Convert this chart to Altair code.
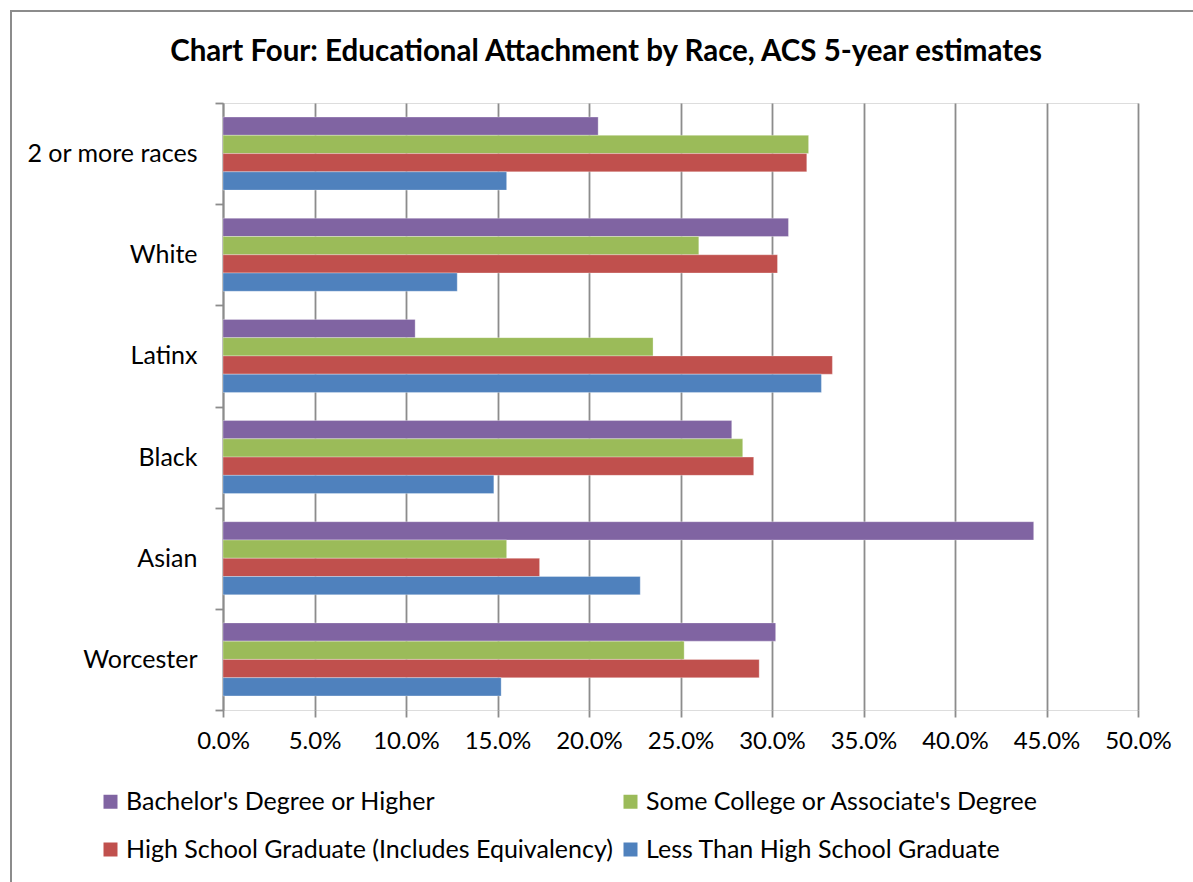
import altair as alt
import pandas as pd

races = ["2 or more races", "White", "Latinx", "Black", "Asian", "Worcester"]
series = [
    "Bachelor's Degree or Higher",
    "Some College or Associate's Degree",
    "High School Graduate (Includes Equivalency)",
    "Less Than High School Graduate",
]
colors = ["#8064A2", "#9BBB59", "#C0504D", "#4F81BD"]
title_text = "Chart Four: Educational Attachment by Race, ACS 5-year estimates"

bachelor = [0.205, 0.309, 0.105, 0.278, 0.443, 0.302]
some_college = [0.320, 0.260, 0.235, 0.284, 0.155, 0.252]
high_school = [0.319, 0.303, 0.333, 0.290, 0.173, 0.293]
less_hs = [0.155, 0.128, 0.327, 0.148, 0.228, 0.152]
x_ticks = [0, 0.05, 0.1, 0.15, 0.2, 0.25, 0.3, 0.35, 0.4, 0.45, 0.5]

rows = []
for vals, s in zip([bachelor, some_college, high_school, less_hs], series):
    for r, v in zip(races, vals):
        rows.append({"race": r, "series": s, "value": v})
df = pd.DataFrame(rows)

FONT = "Lato, sans-serif"

bars = alt.Chart(df).mark_bar(stroke="white", strokeWidth=0.6, strokeOpacity=0.5).encode(
    x=alt.X(
        "value:Q",
        scale=alt.Scale(domain=[0, 0.5], nice=False),
        axis=alt.Axis(
            format=".1%",
            values=x_ticks,
            title=None,
            domain=False,
            grid=True,
            gridColor="#8c8c8c",
            gridWidth=1.8,
            tickColor="#8c8c8c",
            tickWidth=1.8,
            tickSize=7,
            labelFontSize=24,
            labelFont=FONT,
            labelColor="black",
            labelPadding=12,
            labelOverlap=False,
            labelBound=False,
            labelFlush=False,
        ),
    ),
    y=alt.Y(
        "race:N",
        sort=races,
        scale=alt.Scale(paddingInner=0, paddingOuter=0),
        axis=alt.Axis(
            title=None,
            tickBand="extent",
            grid=False,
            domainColor="#8c8c8c",
            domainWidth=1.8,
            tickColor="#8c8c8c",
            tickWidth=1.8,
            tickSize=8,
            labelFontSize=25,
            labelFont=FONT,
            labelColor="black",
            labelPadding=18,
        ),
    ),
    yOffset=alt.YOffset(
        "series:N",
        sort=series,
        scale=alt.Scale(paddingInner=0, paddingOuter=0.77),
    ),
    color=alt.Color(
        "series:N",
        sort=series,
        scale=alt.Scale(domain=series, range=colors),
        legend=alt.Legend(
            title=None,
            orient="none",
            direction="horizontal",
            legendX=-125,
            legendY=686,
            columns=2,
            columnPadding=5,
            rowPadding=22,
            symbolType="square",
            symbolSize=196,
            symbolStrokeWidth=0,
            labelFontSize=25,
            labelFont=FONT,
            labelColor="black",
            labelLimit=700,
            labelOffset=3,
        ),
    ),
)

title = alt.Chart(pd.DataFrame({"t": [title_text]})).mark_text(
    font=FONT, fontSize=29.5, fontWeight="bold", color="black",
    align="center", baseline="middle",
).encode(text="t:N", x=alt.value(383), y=alt.value(-51))

frame = alt.Chart(pd.DataFrame({"a": [0]})).mark_rect(
    fill=None, stroke="#8c8c8c", strokeWidth=2
).encode(
    x=alt.value(-212), x2=alt.value(1100), y=alt.value(-92), y2=alt.value(900)
)

chart = alt.layer(frame, bars, title).properties(
    width=915,
    height=607,
    padding={"left": 223, "top": 103, "right": 55, "bottom": 172},
    autosize=alt.AutoSizeParams(type="none"),
).configure_view(stroke=None).configure(background="white")

chart.save("out.html", embed_options={"renderer": "svg", "actions": False})
